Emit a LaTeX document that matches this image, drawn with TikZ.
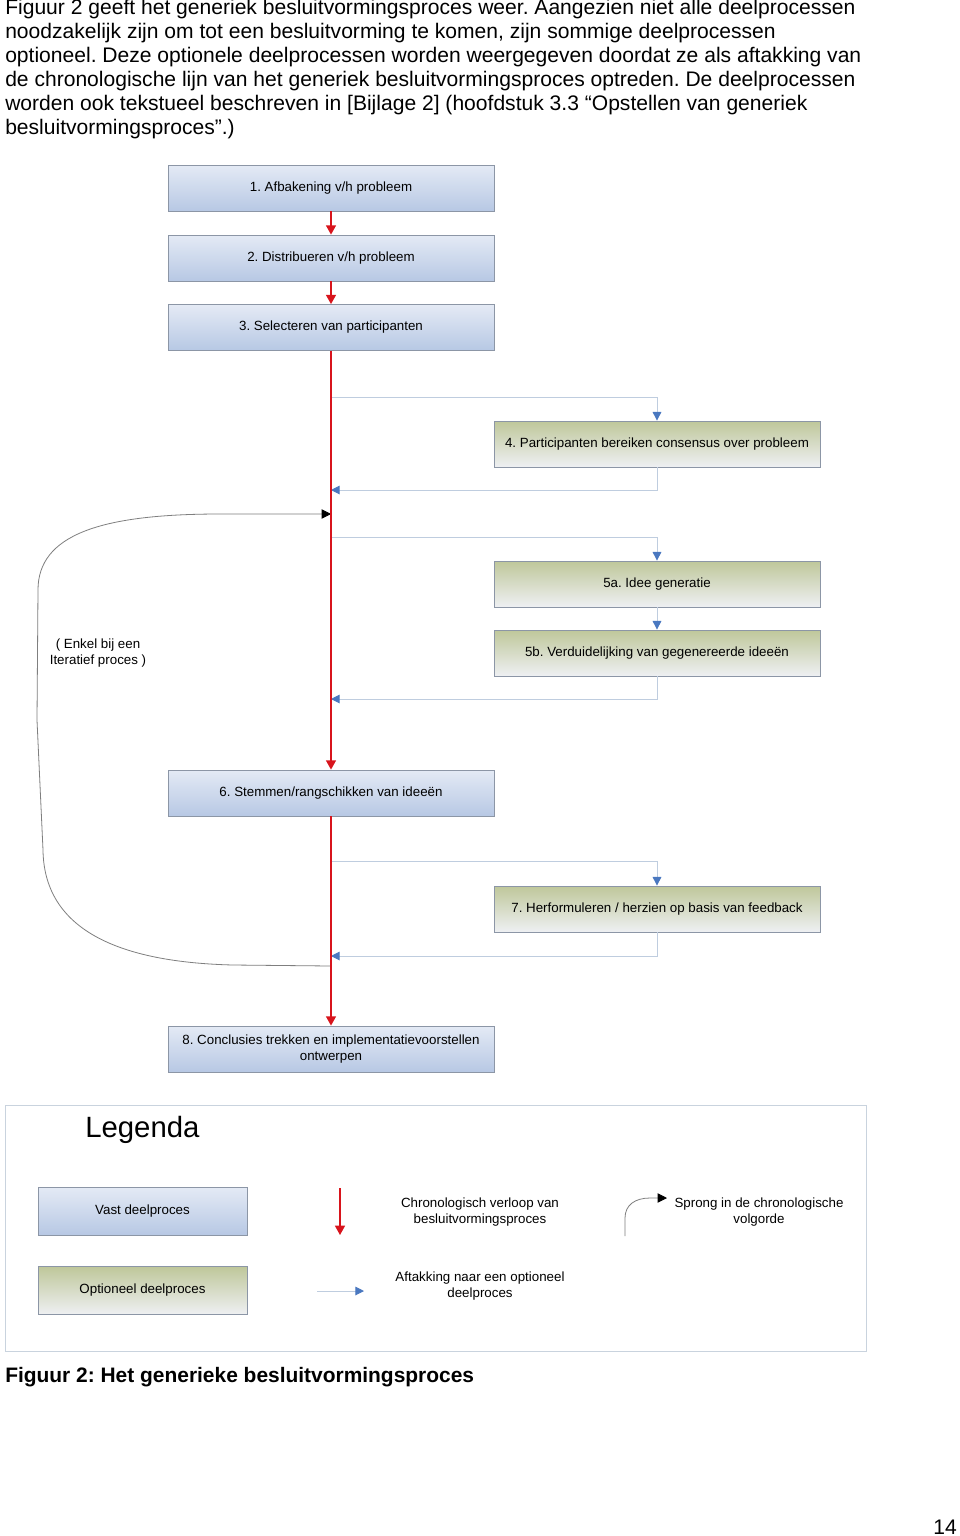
\documentclass[tikz,border=0pt]{standalone}
\usepackage{fontspec}
\setmainfont{Liberation Sans}
\usetikzlibrary{arrows.meta}
\definecolor{boxborder}{HTML}{8C96A6}
\definecolor{vasttop}{HTML}{E4EAF5}
\definecolor{vastbot}{HTML}{B7C8E4}
\definecolor{opttop}{HTML}{BFC79A}
\definecolor{optbot}{HTML}{EEF0F3}
\definecolor{redc}{HTML}{D8141C}
\definecolor{branchline}{HTML}{BFCDDF}
\definecolor{branchtip}{HTML}{4A78C0}
\definecolor{jumpc}{HTML}{7F7F7F}
\definecolor{legborder}{HTML}{C9D3DE}
\tikzset{
  vast/.style={draw=boxborder, line width=0.6pt, top color=vasttop, bottom color=vastbot,
    minimum width=244.5pt, minimum height=34.5pt, inner sep=0pt, align=center,
    font=\fontsize{10}{12}\selectfont},
  opt/.style={vast, top color=opttop, bottom color=optbot},
  legbox/.style={minimum width=156.75pt, minimum height=36pt},
  redarrow/.style={draw=redc, line width=1.1pt, -{Triangle[width=7.5pt,length=7pt]}},
  branch/.style={draw=branchline, line width=0.7pt, -{Triangle[width=6.5pt,length=6.5pt,color=branchtip]}},
  jumparrow/.style={draw=jumpc, line width=0.6pt, -{Triangle[width=7pt,length=7pt,color=black]}},
  bodytext/.style={anchor=west, inner sep=0pt, font=\fontsize{15.8}{18}\selectfont},
  smalltext/.style={align=center, inner sep=0pt, font=\fontsize{10}{12}\selectfont},
}
\begin{document}
\frenchspacing
\begin{tikzpicture}[x=0.75pt,y=-0.75pt]
\useasboundingbox (0,0) rectangle (960,1536);
\fill[white] (0,0) rectangle (960,1536);
% body text
\node[bodytext] (t1) at (5,9) {Figuur 2 geeft het generiek besluitvormingsproces weer. Aangezien niet alle deelprocessen};
\node[bodytext] (t2) at (5,33) {noodzakelijk zijn om tot een besluitvorming te komen, zijn sommige deelprocessen};
\node[bodytext] (t3) at (5,57) {optioneel. Deze optionele deelprocessen worden weergegeven doordat ze als aftakking van};
\node[bodytext] (t4) at (5,81) {de chronologische lijn van het generiek besluitvormingsproces optreden. De deelprocessen};
\node[bodytext] (t5) at (5,105) {worden ook tekstueel beschreven in [Bijlage 2] (hoofdstuk 3.3 “Opstellen van generiek};
\node[bodytext] (t6) at (5,129) {besluitvormingsproces”.)};
% boxes
\node[vast] (b1) at (331,188) {1. Afbakening v/h probleem};
\node[vast] (b2) at (331,258) {2. Distribueren v/h probleem};
\node[vast] (b3) at (331,327.5) {3. Selecteren van participanten};
\node[opt]  (b4) at (657,444) {4. Participanten bereiken consensus over probleem};
\node[opt]  (b5a) at (657,584) {5a. Idee generatie};
\node[opt]  (b5b) at (657,653) {5b. Verduidelijking van gegenereerde ideeën};
\node[vast] (b6) at (331,793) {6. Stemmen/rangschikken van ideeën};
\node[opt]  (b7) at (657,909) {7. Herformuleren / herzien op basis van feedback};
\node[vast] (b8) at (331,1049) {8. Conclusies trekken en implementatievoorstellen\\ontwerpen};
% branch coordinates
\coordinate (s4) at (331,397);
\coordinate (r4) at (331,490);
\coordinate (s5) at (331,537);
\coordinate (r5) at (331,699);
\coordinate (s7) at (331,861);
\coordinate (r7) at (331,956);
\coordinate (jfrom) at (331,966);
\coordinate (jto) at (331,514);
% branches
\draw[branch] (s4) -| (b4.north);
\draw[branch] (b4.south) |- (r4);
\draw[branch] (s5) -| (b5a.north);
\draw[branch] (b5a.south) -- (b5b.north);
\draw[branch] (b5b.south) |- (r5);
\draw[branch] (s7) -| (b7.north);
\draw[branch] (b7.south) |- (r7);
% jump curve
\draw[jumparrow] (jfrom) -- (233,965) .. controls (110,962) and (44,925) .. (43,850)
  -- (37,720) -- (38,590) .. controls (38,535) and (100,514) .. (220,514) -- (jto);
\node[smalltext] (iter) at (98,653) {( Enkel bij een\\Iteratief proces )};
% red chronological line
\draw[redarrow] (b1) -- (b2);
\draw[redarrow] (b2) -- (b3);
\draw[redarrow] (b3) -- (b6);
\draw[redarrow] (b6) -- (b8);
% legend
\node[draw=legborder, line width=0.6pt, minimum width=645.75pt, minimum height=184.5pt, inner sep=0pt] (leg) at (435.5,1228) {};
\node[anchor=west, inner sep=0pt, font=\fontsize{22}{26}\selectfont] (legtitle) at (85,1130) {Legenda};
\node[vast, legbox] (lv) at (142.5,1211) {Vast deelproces};
\node[opt, legbox] (lo) at (142.5,1290.5) {Optioneel deelproces};
\coordinate (lr1) at (340,1188);
\coordinate (lr2) at (340,1235);
\draw[redarrow] (lr1) -- (lr2);
\node[smalltext] (lrt) at (480,1212) {Chronologisch verloop van\\besluitvormingsproces};
\coordinate (lb1) at (317,1291);
\coordinate (lb2) at (364,1291);
\draw[branch] (lb1) -- (lb2);
\node[smalltext] (lbt) at (480,1286) {Aftakking naar een optioneel\\deelproces};
\coordinate (lj1) at (625,1236);
\coordinate (lj2) at (667,1198);
\draw[jumparrow] (lj1) -- (625,1218) .. controls (625,1205) and (635,1198) .. (650,1198) -- (lj2);
\node[smalltext] (ljt) at (759,1212) {Sprong in de chronologische\\volgorde};
% caption
\node[anchor=west, inner sep=0pt, font=\bfseries\fontsize{15.7}{18}\selectfont] (cap) at (5,1377) {Figuur 2: Het generieke besluitvormingsproces};
\node[anchor=east, inner sep=0pt, font=\fontsize{15.8}{18}\selectfont] (pg) at (957,1527) {14};
\end{tikzpicture}
\end{document}
